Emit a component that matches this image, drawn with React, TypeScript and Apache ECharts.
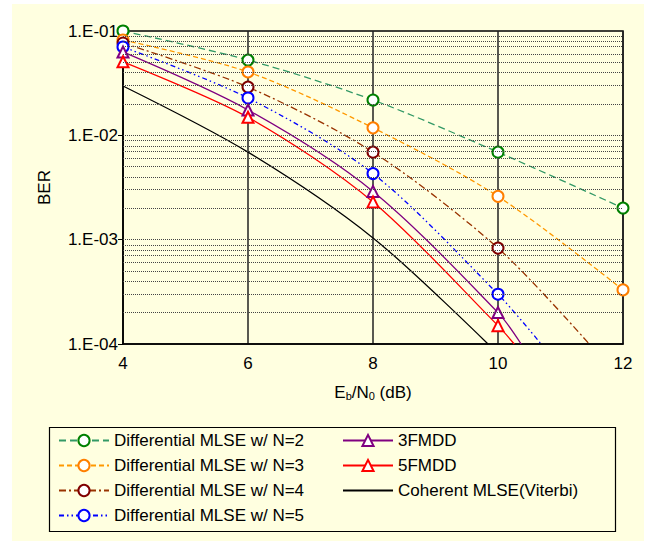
import React, { useEffect, useRef } from "react";
import * as echarts from "echarts";

const xValues = [4, 6, 8, 10, 12];
const berN2 = [0.1, 0.0527, 0.0218, 0.0069, 0.00201];
const berN3 = [0.082, 0.0405, 0.0118, 0.0026, 0.00033];
const berN4 = [0.0767, 0.029, 0.0069, 0.00083];
const berN5 = [0.0703, 0.0228, 0.0043, 0.0003];
const ber3FMDD = [0.063, 0.0175, 0.0029, 0.0002];
const ber5FMDD = [0.0507, 0.0149, 0.0023, 0.00015];
const berCoherent = [0.0297, 0.0069, 0.00104];
// x where each curve leaves the plot at BER = 1e-4
const exitN4 = 11.46;
const exitN5 = 10.69;
const exit3FMDD = 10.37;
const exit5FMDD = 10.26;
const exitCoherent = 9.84;
const berFloor = 1e-4;

const minorGridValues = [
  2e-4, 3e-4, 4e-4, 5e-4, 6e-4, 7e-4, 8e-4, 9e-4, 1e-3,
  2e-3, 3e-3, 4e-3, 5e-3, 6e-3, 7e-3, 8e-3, 9e-3, 1e-2,
  2e-2, 3e-2, 4e-2, 5e-2, 6e-2, 7e-2, 8e-2, 9e-2,
];

const names = [
  "Differential MLSE w/ N=2",
  "Differential MLSE w/ N=3",
  "Differential MLSE w/ N=4",
  "Differential MLSE w/ N=5",
  "3FMDD",
  "5FMDD",
  "Coherent MLSE(Viterbi)",
];

const FONT = "'Liberation Sans', Arial, sans-serif";

function pts(vals: number[], exitX?: number) {
  const d: any[] = vals.map((v, i) => [xValues[i], v]);
  if (exitX !== undefined) d.push({ value: [exitX, berFloor], symbol: "none" });
  return d;
}

function mkSeries(
  name: string,
  data: any[],
  lineColor: string,
  markColor: string,
  dash: any,
  symbol: string,
  symbolSize: number,
  hideSymbols = false
) {
  return {
    name,
    type: "line",
    data,
    smooth: 0.3,
    symbol,
    symbolSize,
    showSymbol: !hideSymbols,
    clip: true,
    z: 3,
    lineStyle: { color: lineColor, width: 1.3, type: dash },
    itemStyle: { color: markColor, borderColor: markColor, borderWidth: 1.3 },
  };
}

export default function App() {
  const ref = useRef<HTMLDivElement>(null);
  useEffect(() => {
    if (!ref.current) return;
    const chart = echarts.init(ref.current, undefined, { renderer: "svg" });
    const legendText = { color: "#000", fontSize: 17, fontFamily: FONT };
    chart.setOption({
      animation: false,
      textStyle: { fontFamily: FONT },
      grid: {
        left: 123,
        right: 24,
        top: 31,
        bottom: 197,
        show: true,
        borderColor: "#000",
        borderWidth: 1.5,
        backgroundColor: "transparent",
      },
      xAxis: {
        type: "value",
        min: 4,
        max: 12,
        interval: 2,
        name: "{m|E}{s|b}{m|/N}{s|0}{m| (dB)}",
        nameLocation: "middle",
        nameGap: 40,
        nameTextStyle: {
          color: "#000",
          rich: {
            m: { fontSize: 17, fontFamily: FONT, color: "#000" },
            s: { fontSize: 11, fontFamily: FONT, color: "#000", verticalAlign: "bottom", lineHeight: 4 },
          },
        },
        axisLine: { show: true, lineStyle: { color: "#000", width: 1.5 } },
        axisTick: { show: false },
        axisLabel: { color: "#000", fontSize: 17, margin: 11 },
        splitLine: { show: true, lineStyle: { color: "#222", width: 1.5 } },
      },
      yAxis: [
        {
          type: "log",
          logBase: 10,
          min: 1e-4,
          max: 1e-1,
          name: "BER",
          nameLocation: "middle",
          nameGap: 70,
          nameTextStyle: { color: "#000", fontSize: 17 },
          axisLine: { show: true, lineStyle: { color: "#000", width: 1.5 } },
          axisTick: { show: true, length: 5, lineStyle: { color: "#000" } },
          axisLabel: {
            color: "#000",
            fontSize: 17,
            margin: 5,
            formatter: (v: number) => {
              const e = Math.round(Math.log10(v));
              const a = Math.abs(e);
              return "1.E" + (e < 0 ? "-" : "+") + (a < 10 ? "0" + a : "" + a);
            },
          },
          splitLine: { show: false },
        },
        {
          type: "value",
          min: -4,
          max: -1,
          show: false,
          splitLine: { show: false },
        },
      ],
      legend: [
        {
          data: names.slice(0, 4),
          orient: "vertical",
          left: 58,
          top: 432,
          padding: 0,
          itemWidth: 50,
          itemHeight: 14,
          itemGap: 8,
          textStyle: legendText,
          selectedMode: false,
        },
        {
          data: names.slice(4),
          orient: "vertical",
          left: 342,
          top: 432,
          padding: 0,
          itemWidth: 50,
          itemHeight: 14,
          itemGap: 8,
          textStyle: legendText,
          selectedMode: false,
        },
      ],
      graphic: [
        {
          type: "rect",
          left: 47,
          top: 425,
          shape: { width: 566, height: 104 },
          style: { fill: "none", stroke: "#000", lineWidth: 1.2 },
          silent: true,
        },
      ],
      series: [
        {
          name: "grid",
          type: "line",
          yAxisIndex: 1,
          data: [],
          z: 1,
          silent: true,
          markLine: {
            silent: true,
            symbol: "none",
            label: { show: false },
            lineStyle: { color: "#444", width: 1, type: [1, 1] },
            data: minorGridValues.map((v) => ({ yAxis: Math.log10(v) })),
          },
        },
        mkSeries(names[0], pts(berN2), "#339966", "#008000", [7, 4], "emptyCircle", 11),
        mkSeries(names[1], pts(berN3), "#FF9900", "#FF7F00", [5, 3], "emptyCircle", 11),
        mkSeries(names[2], pts(berN4, exitN4), "#993300", "#800000", [7, 3, 2, 3], "emptyCircle", 11),
        mkSeries(names[3], pts(berN5, exitN5), "#0000FF", "#0000FF", [5, 3, 1.5, 3, 1.5, 3], "emptyCircle", 11),
        mkSeries(names[4], pts(ber3FMDD, exit3FMDD), "#800080", "#800080", "solid", "emptyTriangle", 11),
        mkSeries(names[5], pts(ber5FMDD, exit5FMDD), "#FF0000", "#FF0000", "solid", "emptyTriangle", 11),
        mkSeries(names[6], pts(berCoherent, exitCoherent), "#000000", "transparent", "solid", "circle", 0, true),
      ],
    });
    return () => chart.dispose();
  }, []);
  return (
    <div style={{ position: "absolute", left: 0, top: 0, width: 647, height: 541, background: "#fff" }}>
      <div style={{ position: "absolute", left: 12, top: 4, width: 632, height: 537, background: "#FFFFE0" }} />
      <div ref={ref} style={{ position: "absolute", left: 0, top: 0, width: 647, height: 541 }} />
    </div>
  );
}
